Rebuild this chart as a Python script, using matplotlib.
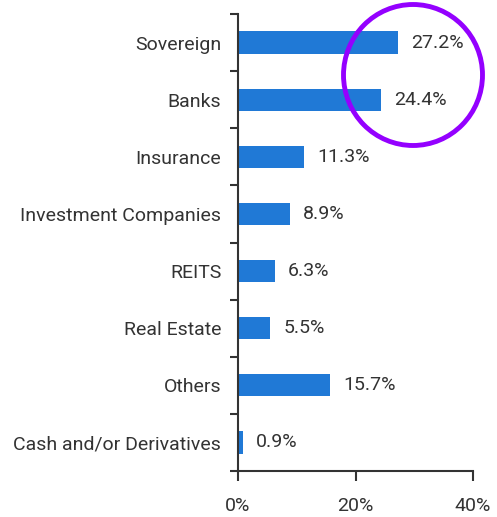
import matplotlib.pyplot as plt
import numpy as np
from matplotlib.patches import Ellipse
from matplotlib.ticker import FixedLocator

categories = ["Sovereign", "Banks", "Insurance", "Investment Companies",
              "REITS", "Real Estate", "Others", "Cash and/or Derivatives"]
values = [27.2, 24.4, 11.3, 8.9, 6.3, 5.5, 15.7, 0.9]
x_ticks = [0, 20, 40]
x_labels = ["0%", "20%", "40%"]

BAR = "#2079d6"
TXT = "#333333"

plt.rcParams["font.family"] = ["Roboto", "DejaVu Sans"]

W, H = 497, 517
fig = plt.figure(figsize=(W / 100, H / 100), dpi=100)
ax = fig.add_axes([238 / W, 1 - 471 / H, (473 - 238) / W, (471 - 14) / H])

y = np.arange(len(categories))
ax.barh(y, values, height=0.39, color=BAR)

for yi, v in zip(y, values):
    ax.text(v + 2.2, yi, f"{v:.1f}%", va="center", ha="left",
            fontsize=14, color=TXT)

ax.set_xlim(0, 40)
ax.set_ylim(len(categories) - 0.5, -0.5)

ax.set_xticks(x_ticks)
ax.set_xticklabels(x_labels, fontsize=14, color=TXT)
ax.yaxis.set_major_locator(FixedLocator(np.arange(len(categories) + 1) - 0.5))
ax.set_yticklabels([])
ax.yaxis.set_minor_locator(FixedLocator(y))
ax.set_yticklabels(categories, minor=True, fontsize=14, color=TXT)
ax.tick_params(axis="y", which="minor", length=0, pad=12)
ax.tick_params(axis="y", which="major", length=6, width=1.5, color=TXT)
ax.tick_params(axis="x", length=7, width=1.5, color=TXT, pad=12)

for s in ["top", "right"]:
    ax.spines[s].set_visible(False)
for s in ["left", "bottom"]:
    ax.spines[s].set_color(TXT)
    ax.spines[s].set_linewidth(1.5)

# highlight circle
circ = Ellipse((413 / W, 1 - 75 / H), 139 / W, 141 / H,
               transform=fig.transFigure, fill=False,
               edgecolor="#9400ff", linewidth=3.5, clip_on=False)
fig.patches.append(circ)

fig.savefig("out.png", dpi=100)
